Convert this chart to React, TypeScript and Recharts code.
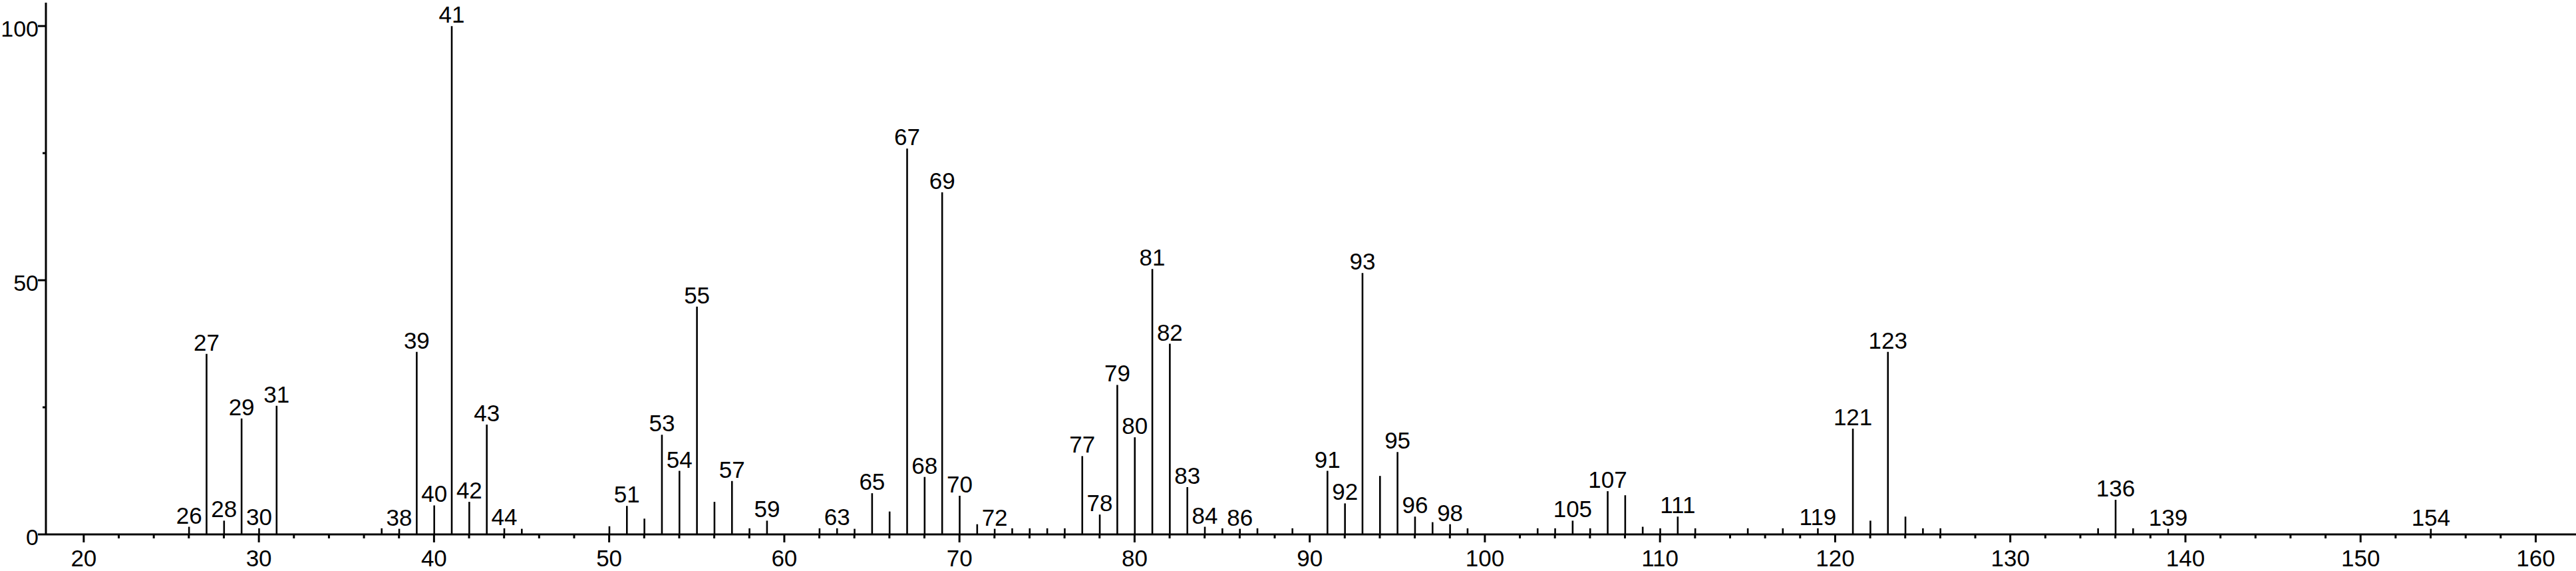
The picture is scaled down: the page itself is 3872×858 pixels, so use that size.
import React from 'react';
import { ComposedChart, Bar, XAxis, YAxis, LabelList } from 'recharts';

const mzValues = [
  26, 27, 28, 29, 30, 31, 37, 38, 39, 40, 41, 42, 43, 44, 45, 50, 51, 52, 53, 54,
  55, 56, 57, 58, 59, 62, 63, 64, 65, 66, 67, 68, 69, 70, 71, 72, 73, 74, 75, 76,
  77, 78, 79, 80, 81, 82, 83, 84, 85, 86, 87, 89, 91, 92, 93, 94, 95, 96, 97, 98,
  99, 103, 104, 105, 106, 107, 108, 109, 110, 111, 112, 115, 117, 119, 121, 122, 123, 124, 125, 126,
  135, 136, 137, 139, 154,
];

const intensities = [
  1.5, 35.5, 2.7, 22.8, 1.2, 25.3, 1.2, 1.1, 35.9, 5.7, 100, 6.4, 21.6, 1.2, 1.1, 1.6, 5.6, 3.1, 19.6, 12.5,
  44.8, 6.4, 10.5, 1.2, 2.7, 1.2, 1.2, 1.1, 8.1, 4.5, 75.9, 11.3, 67.3, 7.6, 2.0, 1.1, 1.2, 1.2, 1.2, 1.2,
  15.4, 3.9, 29.4, 19.1, 52.2, 37.5, 9.3, 1.5, 1.2, 1.1, 1.2, 1.2, 12.5, 6.1, 51.4, 11.5, 16.2, 3.5, 2.4, 2.0,
  1.2, 1.2, 1.2, 2.7, 1.2, 8.5, 7.7, 1.5, 1.2, 3.5, 1.2, 1.2, 1.2, 1.2, 20.8, 2.7, 35.9, 3.5, 1.2, 1.2,
  1.2, 6.8, 1.2, 1.1, 1.1,
];

const labeledPeaks = [
  26, 27, 28, 29, 30, 31, 38, 39, 40, 41, 42, 43, 44, 51, 53, 54, 55, 57, 59, 63,
  65, 67, 68, 69, 70, 72, 77, 78, 79, 80, 81, 82, 83, 84, 86, 91, 92, 93, 95, 96,
  98, 105, 107, 111, 119, 121, 123, 136, 139, 154,
];

const xTicks = [
  20, 22, 24, 26, 28, 30, 32, 34, 36, 38, 40, 42, 44, 46, 48, 50, 52, 54, 56, 58,
  60, 62, 64, 66, 68, 70, 72, 74, 76, 78, 80, 82, 84, 86, 88, 90, 92, 94, 96, 98,
  100, 102, 104, 106, 108, 110, 112, 114, 116, 118, 120, 122, 124, 126, 128, 130, 132, 134, 136, 138,
  140, 142, 144, 146, 148, 150, 152, 154, 156, 158, 160,
];
const xTickLabels = [20, 30, 40, 50, 60, 70, 80, 90, 100, 110, 120, 130, 140, 150, 160];

const yTicks = [0, 25, 50, 75, 100];
const yTickLabels = [0, 50, 100];

const data = mzValues.map((mz, i) => ({
  mz,
  intensity: intensities[i],
  label: labeledPeaks.includes(mz) ? String(mz) : '',
}));

const FONT = '"Liberation Sans", Arial, Helvetica, sans-serif';

const XTick = (props: any) => {
  const { x, y, payload } = props;
  const v = payload.value;
  const major = xTickLabels.includes(v);
  return (
    <g>
      <line x1={x} x2={x} y1={y} y2={y + (major ? 12 : 6)} stroke="#000" strokeWidth={3} />
      {major && (
        <text x={x} y={y + 48} textAnchor="middle" fontSize={35} fontFamily={FONT} fill="#000">
          {v}
        </text>
      )}
    </g>
  );
};

const YTick = (props: any) => {
  const { x, y, payload } = props;
  const v = payload.value;
  const major = yTickLabels.includes(v);
  return (
    <g>
      <line x1={x - (major ? 12 : 5)} x2={x} y1={y} y2={y} stroke="#000" strokeWidth={3} />
      {major && (
        <text x={x - 11} y={y + 16} textAnchor="end" fontSize={34} fontFamily={FONT} fill="#000">
          {v}
        </text>
      )}
    </g>
  );
};

const PeakShape = (props: any) => {
  const { x, y, width, height } = props;
  if (x == null || y == null) return null;
  const cx = x + width / 2;
  return <line x1={cx} x2={cx} y1={y} y2={y + height} stroke="#000" strokeWidth={2.6} />;
};

const renderLabel = (props: any) => {
  const { x, y, width, value } = props;
  if (!value) return null;
  return (
    <text
      x={Number(x) + Number(width) / 2}
      y={Number(y) - 5}
      textAnchor="middle"
      fontSize={35}
      fontFamily={FONT}
      fill="#000"
    >
      {value}
    </text>
  );
};

export default function App() {
  return (
    <div style={{ position: 'absolute', left: 0, top: 0, width: 3872, height: 858, background: '#fff' }}>
      <ComposedChart
        width={3872}
        height={858}
        data={data}
        margin={{ top: 4, right: 0, bottom: 0, left: 0 }}
      >
        <XAxis
          type="number"
          dataKey="mz"
          domain={[17.84, 162.3]}
          allowDataOverflow
          ticks={xTicks}
          interval={0}
          height={55}
          tickSize={0}
          tickMargin={0}
          tickLine={false}
          axisLine={{ stroke: '#000', strokeWidth: 3 }}
          tick={<XTick />}
        />
        <YAxis
          type="number"
          domain={[0, 104.6]}
          allowDataOverflow
          ticks={yTicks}
          interval={0}
          width={69}
          tickSize={0}
          tickMargin={0}
          tickLine={false}
          axisLine={{ stroke: '#000', strokeWidth: 3 }}
          tick={<YTick />}
        />
        <Bar dataKey="intensity" barSize={3} fill="#000" shape={<PeakShape />} isAnimationActive={false}>
          <LabelList dataKey="label" content={renderLabel} />
        </Bar>
      </ComposedChart>
    </div>
  );
}
